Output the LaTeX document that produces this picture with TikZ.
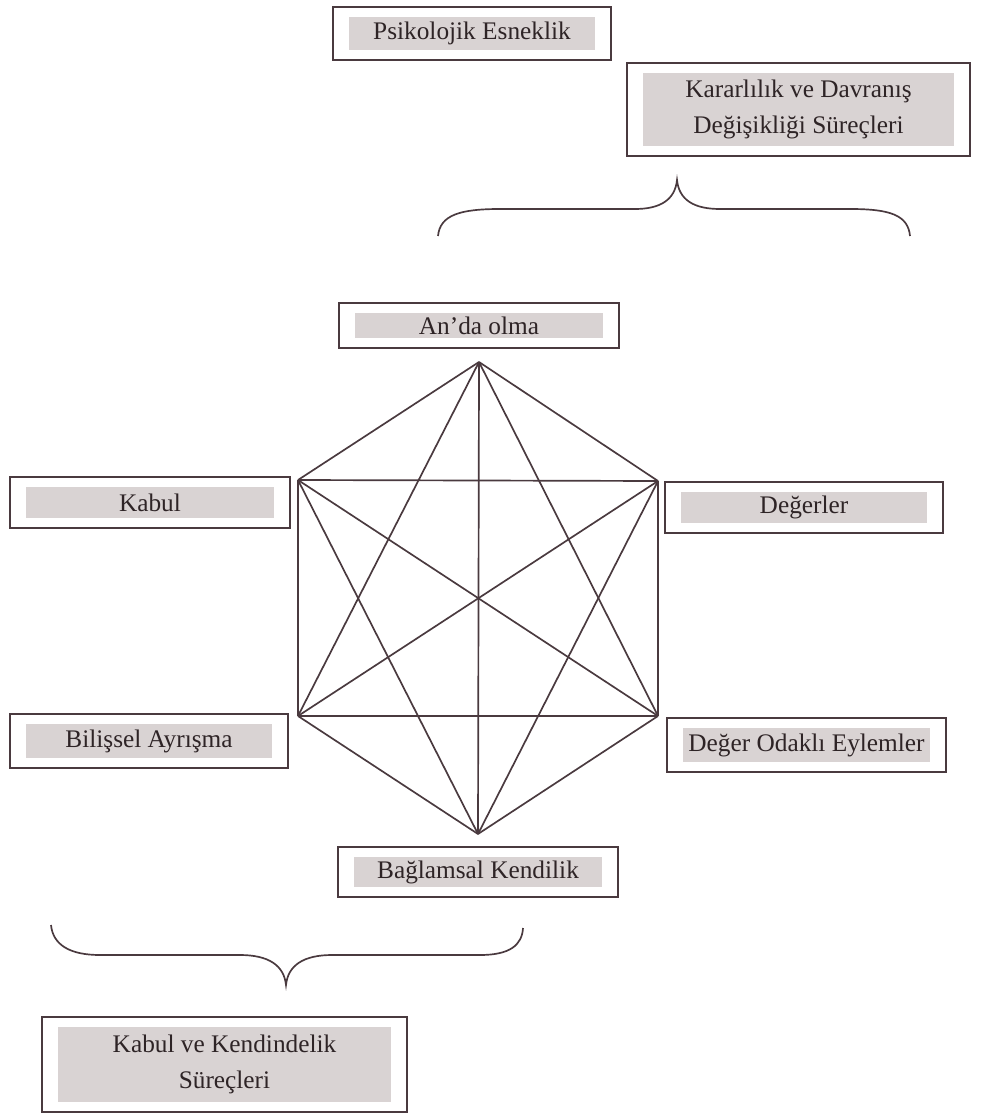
\documentclass[tikz,border=0pt]{standalone}
\usepackage{fontspec}
\setmainfont{Liberation Serif}
\usepackage{xcolor}
\usepackage{tikz}
\definecolor{boxgrey}{HTML}{D9D3D3}
\definecolor{lineink}{HTML}{4A3A3F}
\definecolor{textink}{HTML}{2E2426}

\begin{document}
\begin{tikzpicture}[
      x=0.025cm, y=-0.025cm,
      procbox/.style={draw=lineink, line width=1.4pt, minimum width=7cm, minimum height=1.3cm,
        align=center, text=textink, inner sep=0pt, font=\fontsize{18}{26}\selectfont,
        path picture={\fill[boxgrey] ([xshift=0.4cm, yshift=-0.26cm]path picture bounding box.north west)
          rectangle ([xshift=-0.4cm, yshift=0.24cm]path picture bounding box.south east);}},
      edge/.style={draw=lineink, line width=1.2pt},
      bracket/.style={draw=lineink, line width=1.2pt}
    ]
      \useasboundingbox (0,0) rectangle (984,1115);

      % titles and process boxes
      \node[procbox, minimum width=6.95cm, minimum height=1.325cm] (esnek) at (472,33.5) {Psikolojik Esneklik};
      \node[procbox, minimum width=8.575cm, minimum height=2.325cm] (karar) at (798.5,109.5) {Kararlılık ve Davranış\\Değişikliği Süreçleri};
      \node[procbox, minimum height=1.125cm] (anda) at (479,325.5) {An’da olma};
      \node[procbox, minimum height=1.275cm] (kabul) at (150,502.5) {Kabul};
      \node[procbox, minimum width=6.95cm, minimum height=1.275cm] (deger) at (804,507.5) {Değerler};
      \node[procbox, minimum width=6.95cm, minimum height=1.35cm] (bilis) at (149,741) {Bilişsel Ayrışma};
      \node[procbox, minimum width=6.975cm, minimum height=1.35cm] (eylem) at (806.5,745) {Değer Odaklı Eylemler};
      \node[procbox, minimum height=1.25cm] (bagl) at (478,872) {Bağlamsal Kendilik};
      \node[procbox, minimum width=9.125cm, minimum height=2.375cm] (kabulkend) at (224.5,1064.5) {Kabul ve Kendindelik\\Süreçleri};

      % hexaflex corners
      \coordinate (top) at (479,362);
      \coordinate (ul) at (298,480);
      \coordinate (ur) at (658,481);
      \coordinate (ll) at (298,716);
      \coordinate (lr) at (658,716);
      \coordinate (bot) at (478,834);

      \foreach \a/\b in {top/ul, top/ur, top/ll, top/lr, top/bot,
                         ul/ur, ul/ll, ul/lr, ul/bot,
                         ur/ll, ur/lr, ur/bot,
                         ll/lr, ll/bot, lr/bot}
        \draw[edge] (\a) -- (\b);

      % braces
      \draw[bracket] (438,236) .. controls (440,215) and (460,209) .. (500,209) -- (635,209)
        .. controls (660,209) and (675,200) .. (677,180)
        .. controls (679,200) and (694,209) .. (720,209) -- (850,209)
        .. controls (890,209) and (908,215) .. (910,236);
      \draw[bracket] (51,925) .. controls (53,945) and (70,955) .. (100,955) -- (240,955)
        .. controls (268,955) and (284,965) .. (286,985)
        .. controls (288,965) and (304,955) .. (332,955) -- (480,955)
        .. controls (510,955) and (522,945) .. (523,928);
    \end{tikzpicture}
\end{document}
